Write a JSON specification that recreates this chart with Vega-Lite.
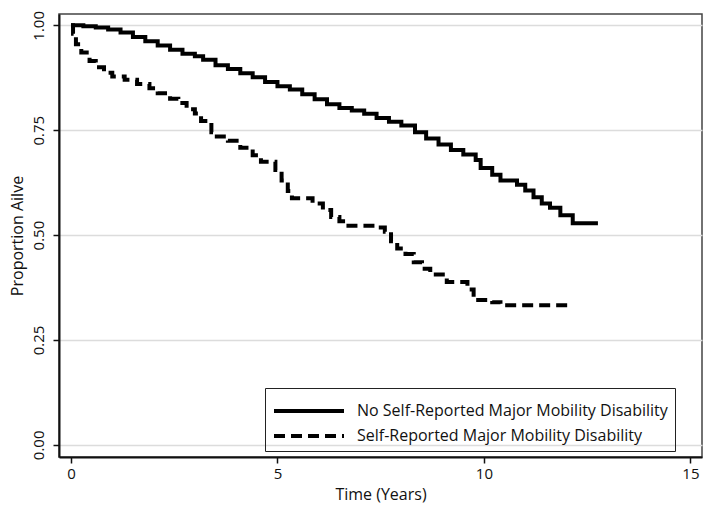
{
  "$schema": "https://vega.github.io/schema/vega-lite/v6.json",
  "width": 643,
  "height": 443,
  "autosize": "none",
  "padding": {"left": 59, "top": 14, "right": 10, "bottom": 57},
  "config": {
    "font": "Open Sans",
    "view": {"stroke": "#444", "strokeWidth": 1.5},
    "axis": {"labelFont": "Open Sans", "titleFont": "Open Sans", "labelFontSize": 15, "titleFontSize": 16, "labelColor": "#111", "titleColor": "#111", "titleFontWeight": "normal", "domainColor": "#111", "domainWidth": 2, "tickColor": "#111", "tickWidth": 1.5, "tickSize": 6}
  },
  "data": {"values": [
    {"group": "No Self-Reported Major Mobility Disability", "t": 0, "s": 1.0},
    {"group": "No Self-Reported Major Mobility Disability", "t": 0.3, "s": 0.998},
    {"group": "No Self-Reported Major Mobility Disability", "t": 0.6, "s": 0.995},
    {"group": "No Self-Reported Major Mobility Disability", "t": 0.9, "s": 0.99},
    {"group": "No Self-Reported Major Mobility Disability", "t": 1.2, "s": 0.983},
    {"group": "No Self-Reported Major Mobility Disability", "t": 1.5, "s": 0.972},
    {"group": "No Self-Reported Major Mobility Disability", "t": 1.8, "s": 0.962},
    {"group": "No Self-Reported Major Mobility Disability", "t": 2.1, "s": 0.952},
    {"group": "No Self-Reported Major Mobility Disability", "t": 2.4, "s": 0.942},
    {"group": "No Self-Reported Major Mobility Disability", "t": 2.7, "s": 0.932},
    {"group": "No Self-Reported Major Mobility Disability", "t": 3.0, "s": 0.926},
    {"group": "No Self-Reported Major Mobility Disability", "t": 3.2, "s": 0.918},
    {"group": "No Self-Reported Major Mobility Disability", "t": 3.5, "s": 0.905},
    {"group": "No Self-Reported Major Mobility Disability", "t": 3.8, "s": 0.896},
    {"group": "No Self-Reported Major Mobility Disability", "t": 4.1, "s": 0.886},
    {"group": "No Self-Reported Major Mobility Disability", "t": 4.4, "s": 0.876},
    {"group": "No Self-Reported Major Mobility Disability", "t": 4.7, "s": 0.865},
    {"group": "No Self-Reported Major Mobility Disability", "t": 5.0, "s": 0.855},
    {"group": "No Self-Reported Major Mobility Disability", "t": 5.3, "s": 0.847},
    {"group": "No Self-Reported Major Mobility Disability", "t": 5.6, "s": 0.836},
    {"group": "No Self-Reported Major Mobility Disability", "t": 5.9, "s": 0.824},
    {"group": "No Self-Reported Major Mobility Disability", "t": 6.2, "s": 0.812},
    {"group": "No Self-Reported Major Mobility Disability", "t": 6.5, "s": 0.803},
    {"group": "No Self-Reported Major Mobility Disability", "t": 6.8, "s": 0.797},
    {"group": "No Self-Reported Major Mobility Disability", "t": 7.1, "s": 0.789},
    {"group": "No Self-Reported Major Mobility Disability", "t": 7.4, "s": 0.779},
    {"group": "No Self-Reported Major Mobility Disability", "t": 7.7, "s": 0.77},
    {"group": "No Self-Reported Major Mobility Disability", "t": 8.0, "s": 0.761},
    {"group": "No Self-Reported Major Mobility Disability", "t": 8.33, "s": 0.745},
    {"group": "No Self-Reported Major Mobility Disability", "t": 8.6, "s": 0.73},
    {"group": "No Self-Reported Major Mobility Disability", "t": 8.9, "s": 0.716},
    {"group": "No Self-Reported Major Mobility Disability", "t": 9.2, "s": 0.703},
    {"group": "No Self-Reported Major Mobility Disability", "t": 9.5, "s": 0.692},
    {"group": "No Self-Reported Major Mobility Disability", "t": 9.8, "s": 0.679},
    {"group": "No Self-Reported Major Mobility Disability", "t": 9.92, "s": 0.66},
    {"group": "No Self-Reported Major Mobility Disability", "t": 10.2, "s": 0.644},
    {"group": "No Self-Reported Major Mobility Disability", "t": 10.4, "s": 0.63},
    {"group": "No Self-Reported Major Mobility Disability", "t": 10.8, "s": 0.62},
    {"group": "No Self-Reported Major Mobility Disability", "t": 11.0, "s": 0.606},
    {"group": "No Self-Reported Major Mobility Disability", "t": 11.2, "s": 0.59},
    {"group": "No Self-Reported Major Mobility Disability", "t": 11.4, "s": 0.575},
    {"group": "No Self-Reported Major Mobility Disability", "t": 11.6, "s": 0.565},
    {"group": "No Self-Reported Major Mobility Disability", "t": 11.85, "s": 0.547},
    {"group": "No Self-Reported Major Mobility Disability", "t": 12.15, "s": 0.528},
    {"group": "No Self-Reported Major Mobility Disability", "t": 12.76, "s": 0.528},
    {"group": "Self-Reported Major Mobility Disability", "t": 0, "s": 1.0},
    {"group": "Self-Reported Major Mobility Disability", "t": 0.05, "s": 0.98},
    {"group": "Self-Reported Major Mobility Disability", "t": 0.12, "s": 0.955},
    {"group": "Self-Reported Major Mobility Disability", "t": 0.25, "s": 0.935},
    {"group": "Self-Reported Major Mobility Disability", "t": 0.45, "s": 0.915},
    {"group": "Self-Reported Major Mobility Disability", "t": 0.6, "s": 0.9},
    {"group": "Self-Reported Major Mobility Disability", "t": 0.8, "s": 0.887},
    {"group": "Self-Reported Major Mobility Disability", "t": 1.0, "s": 0.878},
    {"group": "Self-Reported Major Mobility Disability", "t": 1.3, "s": 0.87},
    {"group": "Self-Reported Major Mobility Disability", "t": 1.6, "s": 0.86},
    {"group": "Self-Reported Major Mobility Disability", "t": 1.9, "s": 0.85},
    {"group": "Self-Reported Major Mobility Disability", "t": 2.1, "s": 0.838},
    {"group": "Self-Reported Major Mobility Disability", "t": 2.4, "s": 0.825},
    {"group": "Self-Reported Major Mobility Disability", "t": 2.6, "s": 0.815},
    {"group": "Self-Reported Major Mobility Disability", "t": 2.8, "s": 0.8},
    {"group": "Self-Reported Major Mobility Disability", "t": 3.0, "s": 0.79},
    {"group": "Self-Reported Major Mobility Disability", "t": 3.15, "s": 0.772},
    {"group": "Self-Reported Major Mobility Disability", "t": 3.4, "s": 0.745},
    {"group": "Self-Reported Major Mobility Disability", "t": 3.45, "s": 0.735},
    {"group": "Self-Reported Major Mobility Disability", "t": 3.8, "s": 0.725},
    {"group": "Self-Reported Major Mobility Disability", "t": 4.1, "s": 0.708},
    {"group": "Self-Reported Major Mobility Disability", "t": 4.4, "s": 0.69},
    {"group": "Self-Reported Major Mobility Disability", "t": 4.6, "s": 0.675},
    {"group": "Self-Reported Major Mobility Disability", "t": 4.95, "s": 0.655},
    {"group": "Self-Reported Major Mobility Disability", "t": 5.1, "s": 0.63},
    {"group": "Self-Reported Major Mobility Disability", "t": 5.25, "s": 0.605},
    {"group": "Self-Reported Major Mobility Disability", "t": 5.35, "s": 0.588},
    {"group": "Self-Reported Major Mobility Disability", "t": 5.85, "s": 0.575},
    {"group": "Self-Reported Major Mobility Disability", "t": 6.1, "s": 0.56},
    {"group": "Self-Reported Major Mobility Disability", "t": 6.3, "s": 0.543},
    {"group": "Self-Reported Major Mobility Disability", "t": 6.5, "s": 0.533},
    {"group": "Self-Reported Major Mobility Disability", "t": 6.65, "s": 0.522},
    {"group": "Self-Reported Major Mobility Disability", "t": 7.4, "s": 0.518},
    {"group": "Self-Reported Major Mobility Disability", "t": 7.6, "s": 0.508},
    {"group": "Self-Reported Major Mobility Disability", "t": 7.75, "s": 0.485},
    {"group": "Self-Reported Major Mobility Disability", "t": 7.9, "s": 0.468},
    {"group": "Self-Reported Major Mobility Disability", "t": 8.1, "s": 0.455},
    {"group": "Self-Reported Major Mobility Disability", "t": 8.3, "s": 0.435},
    {"group": "Self-Reported Major Mobility Disability", "t": 8.5, "s": 0.42},
    {"group": "Self-Reported Major Mobility Disability", "t": 8.7, "s": 0.406},
    {"group": "Self-Reported Major Mobility Disability", "t": 9.1, "s": 0.388},
    {"group": "Self-Reported Major Mobility Disability", "t": 9.6, "s": 0.37},
    {"group": "Self-Reported Major Mobility Disability", "t": 9.75, "s": 0.345},
    {"group": "Self-Reported Major Mobility Disability", "t": 10.2, "s": 0.34},
    {"group": "Self-Reported Major Mobility Disability", "t": 10.4, "s": 0.333},
    {"group": "Self-Reported Major Mobility Disability", "t": 12.13, "s": 0.333}
  ]},
  "mark": {"type": "line", "interpolate": "step-after", "color": "black", "strokeWidth": 4, "strokeCap": "butt"},
  "encoding": {
    "x": {"field": "t", "type": "quantitative", "title": "Time (Years)",
      "scale": {"domain": [-0.29, 15.28], "nice": false, "zero": false},
      "axis": {"values": [0, 5, 10, 15], "grid": false, "labelPadding": 3, "titlePadding": 5}},
    "y": {"field": "s", "type": "quantitative", "title": "Proportion Ailve",
      "scale": {"domain": [-0.029, 1.027], "nice": false, "zero": false},
      "axis": {"values": [0, 0.25, 0.5, 0.75, 1], "format": ".2f", "labelAngle": -90, "labelAlign": "center", "labelBaseline": "bottom", "labelPadding": 7, "grid": true, "gridColor": "#dcdcdc", "gridWidth": 1.5, "titlePadding": 6}},
    "strokeDash": {"field": "group", "type": "nominal",
      "scale": {"domain": ["No Self-Reported Major Mobility Disability", "Self-Reported Major Mobility Disability"], "range": [[1, 0], [11, 6]]},
      "legend": {"title": null, "orient": "none", "legendX": 206, "legendY": 374, "direction": "vertical",
        "strokeColor": "#222", "padding": 7, "symbolType": "M-1,0H4", "symbolSize": 784, "symbolStrokeWidth": 4, "symbolStrokeColor": "black", "symbolFillColor": "transparent",
        "labelFont": "Open Sans", "labelFontSize": 16, "labelColor": "#111", "labelOffset": 53, "labelLimit": 0, "rowPadding": 1}}
  }
}
